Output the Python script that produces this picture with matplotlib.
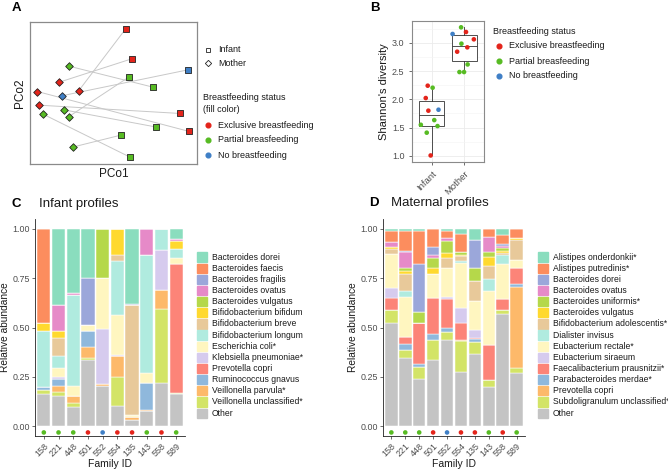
import numpy as np
import matplotlib
matplotlib.use("Agg")
import matplotlib.pyplot as plt
from matplotlib.lines import Line2D

W, H = 668, 469
plt.rcParams['font.family'] = ['Liberation Sans', 'DejaVu Sans']

# ---------------- data ----------------
family_ids = ['158', '221', '448', '501', '552', '554', '135', '143', '558', '589']
family_status = ['Partial', 'Partial', 'Partial', 'Exclusive', 'No', 'Exclusive',
                 'Exclusive', 'Partial', 'Exclusive', 'Partial']
status_names = ['Exclusive breastfeeding', 'Partial breasfeeding', 'No breastfeeding']
status_colors = {'Exclusive': '#E3241B', 'Partial': '#57BB23', 'No': '#3F7FC6'}

# panel A: PCoA coordinates (pairs infant <-> mother)
pair_status = ['Exclusive', 'Exclusive', 'Partial', 'No', 'Partial',
               'Exclusive', 'Partial', 'Exclusive', 'Partial', 'Partial']
infant_pco1 = [0.076, 0.116, 0.096, 0.448, 0.240, 0.400, 0.260, 0.456, 0.048, 0.104]
infant_pco2 = [0.390, 0.210, 0.100, 0.142, 0.038, -0.120, -0.202, -0.228, -0.250, -0.384]
mother_pco1 = [-0.206, -0.324, -0.268, -0.310, -0.264, -0.448, -0.298, -0.456, -0.242, -0.422]
mother_pco2 = [0.018, 0.068, -0.140, -0.014, 0.164, -0.070, -0.098, 0.012, -0.322, -0.124]

# panel B: Shannon diversity
infant_shannon = [2.243, 2.207, 2.024, 1.800, 1.817, 1.633, 1.550, 1.527, 1.410, 1.006]
infant_sh_status = ['Exclusive', 'Partial', 'Exclusive', 'Exclusive', 'No',
                    'Partial', 'Partial', 'Partial', 'Partial', 'Exclusive']
infant_jitter = [-0.12, 0.03, -0.18, -0.10, 0.21, 0.08, -0.33, 0.18, -0.15, -0.03]
mother_shannon = [3.278, 3.160, 3.195, 3.065, 2.988, 2.923, 2.846, 2.620, 2.485, 2.485]
mother_sh_status = ['Partial', 'No', 'Exclusive', 'Exclusive', 'Partial',
                    'Exclusive', 'Exclusive', 'Partial', 'Partial', 'Partial']
mother_jitter = [-0.10, -0.36, 0.05, 0.29, -0.09, 0.09, -0.22, 0.10, -0.15, -0.01]

palette = ['#8ADDBE', '#FC8D5E', '#9BA7DA', '#E68AC8', '#B5D84A', '#FFD92F', '#E8C99A',
           '#B0EBDF', '#FFF6C0', '#D6CBEE', '#FC8478', '#8FB8DC', '#FDB96A', '#D3E467',
           '#C4C4C4']

# panel C: infant profiles
infant_taxa = ['Bacteroides dorei', 'Bacteroides faecis', 'Bacteroides fragilis',
               'Bacteroides ovatus', 'Bacteroides vulgatus', 'Bifidobacterium bifidum',
               'Bifidobacterium breve', 'Bifidobacterium longum', 'Escherichia coli*',
               'Klebsiella pneumoniae*', 'Prevotella copri', 'Ruminococcus gnavus',
               'Veillonella parvula*', 'Veillonella unclassified*', 'Other']
#                158    221    448    501    552    554    135    143    558    589
inf_b_dorei   = [0,     .385,  .325,  .25,   0,     0,     .38,   0,     0,     .052]
inf_b_faecis  = [.475,  0,     0,     0,     0,     0,     0,     0,     0,     0]
inf_b_fragil  = [0,     0,     0,     .235,  0,     0,     .005,  0,     0,     0]
inf_b_ovatus  = [0,     .132,  .01,   0,     0,     0,     0,     .135,  0,     .01]
inf_b_vulgat  = [0,     0,     0,     0,     .25,   0,     0,     0,     0,     0]
inf_bif_bifid = [.045,  .038,  0,     0,     0,     .13,   0,     0,     0,     .04]
inf_bif_breve = [0,     .09,   0,     0,     0,     .035,  .56,   0,     0,     0]
inf_bif_long  = [.28,   .06,   .46,   0,     0,     .27,   0,     .595,  .105,  .048]
inf_e_coli    = [0,     .045,  .05,   .035,  .26,   .205,  .01,   .05,   0,     .03]
inf_klebs     = [0,     .01,   0,     0,     .275,  .005,  0,     0,     .205,  0]
inf_prevot    = [0,     0,     0,     0,     0,     0,     0,     0,     0,     .65]
inf_rumino    = [.015,  .035,  0,     .08,   0,     0,     0,     .14,   0,     0]
inf_v_parv    = [0,     .03,   .04,   .055,  .01,   .105,  .015,  .005,  .095,  0]
inf_v_uncl    = [.02,   .02,   .02,   .01,   0,     .15,   0,     0,     .375,  .005]
inf_other     = [.165,  .155,  .095,  .335,  .205,  .10,   .03,   .075,  .22,   .165]
infant_table = [inf_b_dorei, inf_b_faecis, inf_b_fragil, inf_b_ovatus, inf_b_vulgat,
                inf_bif_bifid, inf_bif_breve, inf_bif_long, inf_e_coli, inf_klebs,
                inf_prevot, inf_rumino, inf_v_parv, inf_v_uncl, inf_other]

# panel D: maternal profiles
mother_taxa = ['Alistipes onderdonkii*', 'Alistipes putredinis*', 'Bacteroides dorei',
               'Bacteroides ovatus', 'Bacteroides uniformis*', 'Bacteroides vulgatus',
               'Bifidobacterium adolescentis*', 'Dialister invisus', 'Eubacterium rectale*',
               'Eubacterium siraeum', 'Faecalibacterium prausnitzii*',
               'Parabacteroides merdae*', 'Prevotella copri', 'Subdoligranulum unclassified*',
               'Other']
#                158    221    448    501    552    554    135    143    558    589
mat_a_onder   = [.01,   .01,   .01,   0,     .01,   .025,  .055,  0,     .03,   0]
mat_a_putr    = [.055,  .10,   .17,   .09,   .035,  .09,   0,     .04,   .045,  .045]
mat_b_dorei   = [0,     .005,  .24,   .045,  0,     0,     .145,  0,     .01,   0]
mat_b_ovatus  = [.025,  .085,  0,     .015,  .015,  0,     0,     .075,  .01,   0]
mat_b_unif    = [0,     .015,  .055,  .05,   .06,   .015,  .065,  .03,   .015,  0]
mat_b_vulg    = [.01,   .015,  0,     .03,   .03,   .01,   0,     .045,  .01,   .01]
mat_bif_adol  = [.025,  .085,  0,     0,     .05,   .025,  .10,   .065,  .01,   .105]
mat_dialist   = [0,     .03,   0,     0,     0,     .01,   0,     .06,   .05,   0]
mat_e_rect    = [.175,  .205,  0,     .12,   .145,  .225,  .15,   .275,  .175,  .04]
mat_e_sira    = [.05,   0,     0,     0,     .01,   .075,  .04,   0,     0,     0]
mat_faecali   = [.06,   .035,  .21,   .185,  .15,   .09,   .005,  .175,  .055,  .08]
mat_parab     = [0,     .03,   .015,  .03,   .02,   0,     .015,  0,     0,     .015]
mat_prevot    = [0,     0,     0,     0,     0,     .005,  0,     0,     0,     .41]
mat_subdol    = [.065,  .04,   .06,   .10,   .04,   .155,  .06,   .035,  .02,   .025]
mat_other     = [.525,  .345,  .24,   .335,  .435,  .275,  .365,  .20,   .57,   .27]
mother_table = [mat_a_onder, mat_a_putr, mat_b_dorei, mat_b_ovatus, mat_b_unif, mat_b_vulg,
                mat_bif_adol, mat_dialist, mat_e_rect, mat_e_sira, mat_faecali, mat_parab,
                mat_prevot, mat_subdol, mat_other]


def px(x0, y0, x1, y1):
    return [x0 / W, 1 - y1 / H, (x1 - x0) / W, (y1 - y0) / H]


def fx(x):
    return x / W


def fy(y):
    return 1 - y / H


fig = plt.figure(figsize=(W / 100, H / 100), dpi=100)
txt = '#1A1A1A'
tick_col = '#4D4D4D'

# ---------------- panel A ----------------
axA = fig.add_axes(px(30, 22, 197, 164))
for i in range(len(pair_status)):
    axA.plot([infant_pco1[i], mother_pco1[i]], [infant_pco2[i], mother_pco2[i]],
             color='#C8C8C8', lw=0.7, zorder=1)
for i in range(len(pair_status)):
    c = status_colors[pair_status[i]]
    axA.scatter(infant_pco1[i], infant_pco2[i], marker='s', s=20, color=c,
                edgecolors='#222222', linewidths=0.6, zorder=3)
    axA.scatter(mother_pco1[i], mother_pco2[i], marker='D', s=15, color=c,
                edgecolors='#222222', linewidths=0.6, zorder=3)
axA.set_xlim(-0.5, 0.504)
axA.set_ylim(-0.424, 0.43)
axA.set_xticks([])
axA.set_yticks([])
for s in axA.spines.values():
    s.set_color('#8A8A8A')
    s.set_linewidth(0.9)
axA.set_xlabel('PCo1', fontsize=8.5, color=txt, labelpad=3)
axA.set_ylabel('PCo2', fontsize=8.5, color=txt, labelpad=3)

fig.text(fx(12), fy(8), 'A', fontsize=9.5, fontweight='bold', va='center', ha='left')
# shape legend
fig.add_artist(Line2D([fx(208)], [fy(50)], marker='s', ms=3.5, mfc='white', mec='#222222',
                      mew=0.6, ls=''))
fig.add_artist(Line2D([fx(208)], [fy(63)], marker='D', ms=3.2, mfc='white', mec='#222222',
                      mew=0.6, ls=''))
fig.text(fx(218), fy(50), 'Infant', fontsize=6.5, va='center', color=txt)
fig.text(fx(218), fy(63), 'Mother', fontsize=6.5, va='center', color=txt)
fig.text(fx(203), fy(98), 'Breastfeeding status', fontsize=6.5, va='center', color=txt)
fig.text(fx(203), fy(109), '(fill color)', fontsize=6.5, va='center', color=txt)
for k, key in enumerate(['Exclusive', 'Partial', 'No']):
    y = 125 + k * 15
    fig.add_artist(Line2D([fx(208)], [fy(y)], marker='o', ms=3.4, color=status_colors[key],
                          ls=''))
    fig.text(fx(218), fy(y), status_names[k], fontsize=6.5, va='center', color=txt)

# ---------------- panel B ----------------
axB = fig.add_axes(px(412, 21, 484, 162))
bp = axB.boxplot([infant_shannon, mother_shannon], positions=[1, 2], widths=0.75,
                 whis=1.5, showfliers=False, patch_artist=True)
for b in bp['boxes']:
    b.set_facecolor('white')
    b.set_edgecolor('#333333')
    b.set_linewidth(0.6)
for part in ['whiskers', 'medians']:
    for l in bp[part]:
        l.set_color('#333333')
        l.set_linewidth(0.6)
for l in bp['caps']:
    l.set_visible(False)
axB.scatter([1 + j for j in infant_jitter], infant_shannon,
            c=[status_colors[s] for s in infant_sh_status], s=11, zorder=4, linewidths=0)
axB.scatter([2 + j for j in mother_jitter], mother_shannon,
            c=[status_colors[s] for s in mother_sh_status], s=11, zorder=4, linewidths=0)
axB.set_xlim(0.4, 2.6)
axB.set_ylim(0.89, 3.39)
axB.set_yticks([1.0, 1.5, 2.0, 2.5, 3.0])
axB.set_yticks([1.25, 1.75, 2.25, 2.75, 3.25], minor=True)
axB.set_xticks([1, 2], labels=['Infant', 'Mother'])
plt.setp(axB.get_xticklabels(), rotation=45, ha='right', rotation_mode='anchor',
         fontsize=6.8, color=tick_col)
axB.grid(True, which='major', color='#EBEBEB', lw=0.6)
axB.grid(True, which='minor', axis='y', color='#F4F4F4', lw=0.4)
axB.set_axisbelow(True)
axB.tick_params(axis='y', labelsize=6.5, labelcolor=tick_col, length=2, color='#333333',
                width=0.5)
axB.tick_params(axis='y', which='minor', length=0)
axB.tick_params(axis='x', length=2, color='#333333', width=0.5)
for s in axB.spines.values():
    s.set_color('#8A8A8A')
    s.set_linewidth(0.8)
axB.set_ylabel("Shannon's diversity", fontsize=8, color=txt, labelpad=2)

fig.text(fx(370), fy(8), 'B', fontsize=9.5, fontweight='bold', va='center', ha='left')
fig.text(fx(493), fy(31), 'Breastfeeding status', fontsize=6.5, va='center', color=txt)
for k, key in enumerate(['Exclusive', 'Partial', 'No']):
    y = 46 + k * 15
    fig.add_artist(Line2D([fx(499)], [fy(y)], marker='o', ms=3.4, color=status_colors[key],
                          ls=''))
    fig.text(fx(509), fy(y), status_names[k], fontsize=6.5, va='center', color=txt)


# ---------------- panels C and D ----------------
def profile(ax, table):
    x = np.arange(1, len(family_ids) + 1)
    bottom = np.zeros(len(family_ids))
    for k in range(len(table) - 1, -1, -1):
        vals = np.array(table[k])
        ax.bar(x, vals, width=0.9, bottom=bottom, color=palette[k],
               edgecolor='white', linewidth=0.35)
        bottom += vals
    ax.scatter(x, np.full(len(x), -0.032), c=[status_colors[s] for s in family_status],
               s=11, linewidths=0, zorder=4)
    ax.set_xlim(0.4, len(x) + 0.6)
    ax.set_ylim(-0.05, 1.05)
    ax.set_yticks([0, 0.25, 0.5, 0.75, 1.0])
    ax.set_yticklabels(['0.00', '0.25', '0.50', '0.75', '1.00'])
    ax.set_xticks(x)
    ax.set_xticklabels(family_ids, rotation=45, ha='right', rotation_mode='anchor')
    ax.tick_params(labelsize=6.4, labelcolor=tick_col, length=2.2, width=0.5,
                   color='#333333', pad=1.5)
    ax.spines['top'].set_visible(False)
    ax.spines['right'].set_visible(False)
    for s in ['left', 'bottom']:
        ax.spines[s].set_linewidth(0.6)
        ax.spines[s].set_color('#222222')
    ax.set_ylabel('Relative abundance', fontsize=7.3, color=txt, labelpad=2)
    ax.set_xlabel('Family ID', fontsize=7.5, color=txt, labelpad=1)


def side_legend(x_sw, x_txt, names):
    for k, name in enumerate(names):
        y = 257 + k * 11.15
        fig.add_artist(plt.Rectangle((fx(x_sw), fy(y + 4.6)), 9.5 / W, 9.2 / H,
                                     color=palette[k], transform=fig.transFigure))
        fig.text(fx(x_txt), fy(y), name, fontsize=6.2, va='center', color=txt)


axC = fig.add_axes(px(35, 219, 185, 436))
profile(axC, infant_table)
fig.text(fx(12), fy(204), 'C', fontsize=9.5, fontweight='bold', va='center', ha='left')
fig.text(fx(39), fy(204), 'Infant profiles', fontsize=9.5, va='center', ha='left', color=txt)
side_legend(197, 212, infant_taxa)

axD = fig.add_axes(px(383, 219, 525, 436))
profile(axD, mother_table)
fig.text(fx(369), fy(203), 'D', fontsize=9.5, fontweight='bold', va='center', ha='left')
fig.text(fx(391), fy(203), 'Maternal profiles', fontsize=9.5, va='center', ha='left',
         color=txt)
side_legend(538, 553, mother_taxa)

fig.savefig('out.png', dpi=100)
